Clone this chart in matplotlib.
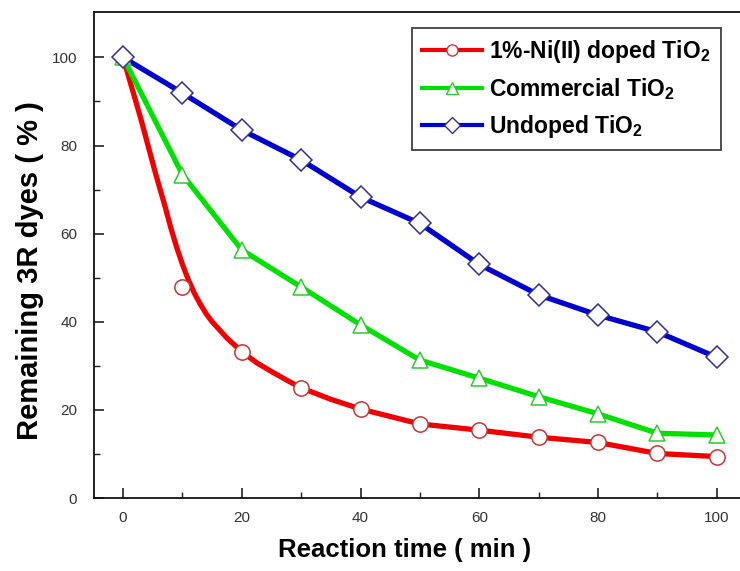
import matplotlib
matplotlib.use("Agg")
import matplotlib.pyplot as plt
from matplotlib.lines import Line2D

# ---- data ----
time_min = [0, 10, 20, 30, 40, 50, 60, 70, 80, 90, 100]
ni_doped = [100, 48.0, 33.2, 25.0, 20.2, 16.8, 15.4, 13.8, 12.6, 10.1, 9.4]
commercial = [100, 73.4, 56.3, 47.9, 39.3, 31.3, 27.2, 23.0, 19.1, 14.7, 14.3]
undoped = [100, 91.9, 83.5, 76.7, 68.3, 62.3, 53.0, 46.1, 41.5, 37.7, 31.9]

# fitted red curve
ni_fit_time = [0, 1.5, 3, 4, 5.5, 7, 8, 9, 10, 11, 12, 13, 14, 15, 17.5, 20, 22.5, 25, 27.5, 30, 35, 40, 50, 60, 70, 80, 90, 100]
ni_fit_val = [100, 93, 86, 81, 73.5, 66.5, 61.5, 57, 53, 49.5, 46.5, 44, 41.8, 40, 36.3, 33.2, 30.7, 28.7, 26.8, 25.0, 22.4, 20.2, 16.8, 15.4, 13.8, 12.6, 10.1, 9.4]

labels = ["1%-Ni(II) doped TiO$_\\mathbf{2}$", "Commercial TiO$_\\mathbf{2}$", "Undoped TiO$_\\mathbf{2}$"]
x_ticks = [0, 20, 40, 60, 80, 100]
y_ticks = [0, 20, 40, 60, 80, 100]

plt.rcParams['mathtext.fontset'] = 'custom'
plt.rcParams['mathtext.bf'] = 'Liberation Sans:bold'
plt.rcParams['mathtext.rm'] = 'Liberation Sans'
plt.rcParams['font.family'] = ['Liberation Sans', 'DejaVu Sans']

fig = plt.figure(figsize=(7.4, 5.71), dpi=100)
ax = fig.add_axes([94/740, 73/571, 646/740, 486/571])

red_line = '#ee0000'
green_line = '#00e000'
blue_line = '#0000cc'
red_edge = '#c03838'
green_edge = '#30c830'
blue_edge = '#303090'

ax.plot(ni_fit_time, ni_fit_val, color=red_line, lw=3.8, solid_capstyle='round', solid_joinstyle='round', zorder=2)
ax.plot(time_min, commercial, color=green_line, lw=3.8, solid_joinstyle='round', zorder=2)
ax.plot(time_min, undoped, color=blue_line, lw=3.8, solid_joinstyle='round', zorder=2)

ax.plot(time_min, ni_doped, ls='none', marker='o', ms=11, mfc='white', mec=red_edge, mew=1.1, zorder=3)
ax.plot(time_min, commercial, ls='none', marker='^', ms=12, mfc='white', mec=green_edge, mew=1.1, zorder=3)
ax.plot(time_min, undoped, ls='none', marker='D', ms=11, mfc='white', mec=blue_edge, mew=1.1, zorder=4)

ax.set_xlim(-4.9, 103.9)
ax.set_ylim(0, 110.3)
ax.set_xticks(x_ticks)
ax.set_yticks(y_ticks)
ax.set_xticks([10, 30, 50, 70, 90], minor=True)
ax.set_yticks([10, 30, 50, 70, 90], minor=True)

ax.tick_params(which='major', direction='in', length=7, width=1.2, colors='#222222', labelcolor='#333333', labelsize=11)
ax.tick_params(which='minor', direction='in', length=4, width=1.0, colors='#222222')
ax.tick_params(axis='x', pad=9)
ax.tick_params(axis='y', pad=12)

for s in ['left', 'bottom', 'top']:
    ax.spines[s].set_linewidth(1.3)
    ax.spines[s].set_color('#111111')
ax.spines['right'].set_visible(False)

ax.set_xlabel('Reaction time ( min )', fontsize=18.5, fontweight='bold', labelpad=10)
ax.set_ylabel('Remaining 3R dyes ( % )', fontsize=21, fontweight='bold', labelpad=6)
ax.xaxis.label.set_x(0.481)
ax.yaxis.label.set_y(0.467)

handles = [
    Line2D([], [], color=red_line, lw=3, marker='o', ms=8, mfc='white', mec=red_edge, mew=1.0),
    Line2D([], [], color=green_line, lw=3, marker='^', ms=9, mfc='white', mec=green_edge, mew=1.0),
    Line2D([], [], color=blue_line, lw=3, marker='D', ms=8, mfc='white', mec=blue_edge, mew=1.0),
]
leg = ax.legend(handles, labels, loc='upper left', bbox_to_anchor=((412 - 94) / 646, 1 - 16 / 486),
                bbox_transform=ax.transAxes, borderaxespad=0, frameon=True, fancybox=False,
                edgecolor='#111111', handlelength=2.6, handletextpad=0.3, labelspacing=0.47,
                borderpad=0.45, prop={'weight': 'bold', 'size': 16.5})
leg.get_frame().set_linewidth(1.3)

fig.savefig('out.png', dpi=100)
